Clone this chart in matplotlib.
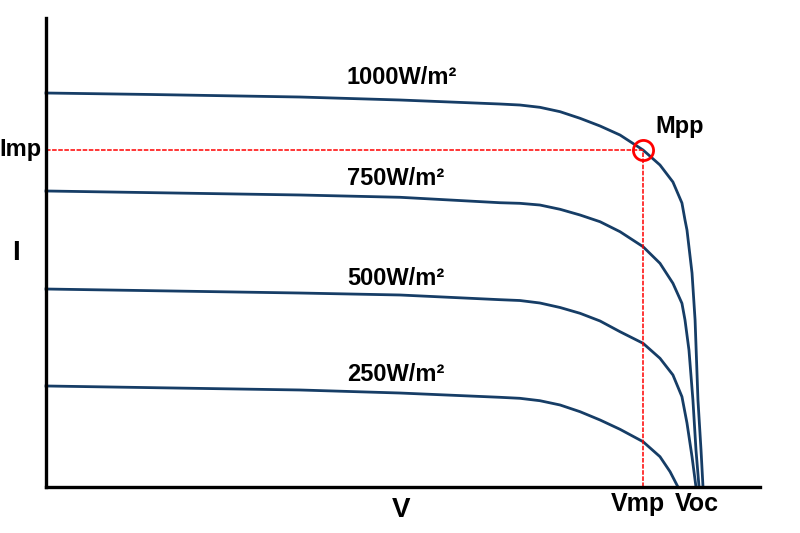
import matplotlib
matplotlib.use("Agg")
import matplotlib.pyplot as plt

plt.rcParams['font.family'] = ['Liberation Sans', 'DejaVu Sans']

# I-V curves (arbitrary V / I units)
v_1000 = [0, 5.78, 14.11, 19.67, 25.22, 26.33, 27.44, 28.56, 29.67, 30.78, 31.89, 33.17,
          34.11, 34.83, 35.33, 35.5, 35.61, 35.89, 36.06, 36.22, 36.39, 36.5]
i_1000 = [8.565, 8.533, 8.478, 8.413, 8.326, 8.304, 8.254, 8.159, 8.015, 7.848, 7.652, 7.326,
          7.0, 6.630, 6.174, 5.804, 5.587, 4.652, 3.630, 1.891, 0.804, 0]

v_750 = [0, 14.11, 19.67, 25.22, 26.33, 27.44, 28.56, 29.67, 30.78, 31.89, 33.17,
         34.11, 34.83, 35.33, 35.5, 35.72, 35.94, 36.11, 36.28]
i_750 = [6.435, 6.348, 6.298, 6.180, 6.167, 6.130, 6.037, 5.913, 5.767, 5.550, 5.224,
         4.863, 4.428, 3.993, 3.630, 2.978, 1.891, 0.804, 0]

v_500 = [0, 14.11, 19.67, 25.22, 26.33, 27.44, 28.56, 29.67, 30.78, 31.89, 33.17,
         34.11, 34.83, 35.33, 35.61, 35.89, 36.11]
i_500 = [4.304, 4.217, 4.174, 4.072, 4.054, 4.0, 3.902, 3.776, 3.609, 3.376, 3.124,
         2.798, 2.435, 1.963, 1.391, 0.659, 0]

v_250 = [0, 14.11, 19.67, 25.22, 26.33, 27.44, 28.56, 29.67, 30.78, 31.89, 33.17,
         34.11, 34.67, 35.11]
i_250 = [2.196, 2.109, 2.043, 1.950, 1.928, 1.876, 1.783, 1.637, 1.457, 1.254, 0.985,
         0.659, 0.333, 0]

curve_labels = ['1000W/m²', '750W/m²', '500W/m²', '250W/m²']
label_y = [8.90, 6.70, 4.53, 2.44]

v_mp = 33.17
i_mp = 7.33

navy = '#163d66'

fig = plt.figure(figsize=(8, 5.33), dpi=100)
ax = fig.add_axes([46 / 800, 46 / 533, 714 / 800, 469 / 533])
ax.set_xlim(0, 714 / 18)
ax.set_ylim(0, 469 / 46)

for v, i in [(v_1000, i_1000), (v_750, i_750), (v_500, i_500), (v_250, i_250)]:
    ax.plot(v, i, color=navy, lw=2, solid_joinstyle='round', clip_on=False)

for lab, y in zip(curve_labels, label_y):
    ax.text(16.72, y, lab, fontsize=17, fontweight='bold', ha='left', va='center')

# max power point
ax.plot([0, v_mp], [i_mp, i_mp], color='red', lw=1.1, ls=(0, (3, 1)))
ax.plot([v_mp, v_mp], [0, i_mp], color='red', lw=1.1, ls=(0, (3, 1)))
ax.plot([v_mp], [i_mp], marker='o', ms=14.5, mfc='none', mec='red', mew=2)
ax.text(35.19, 7.83, 'Mpp', fontsize=17, fontweight='bold', ha='center', va='center')

ax.text(-0.24, i_mp, 'Imp', fontsize=17, fontweight='bold', ha='right', va='center', clip_on=False)
ax.text(-1.67, 5.09, 'I', fontsize=20, fontweight='bold', ha='center', va='center')
ax.text(19.72, -0.5, 'V', fontsize=20, fontweight='bold', ha='center', va='center')
ax.text(32.86, -0.36, 'Vmp', fontsize=18, fontweight='bold', ha='center', va='center')
ax.text(36.15, -0.36, 'Voc', fontsize=18, fontweight='bold', ha='center', va='center')

for s in ['top', 'right']:
    ax.spines[s].set_visible(False)
for s in ['left', 'bottom']:
    ax.spines[s].set_linewidth(2.4)
    ax.spines[s].set_color('black')
ax.set_xticks([])
ax.set_yticks([])

fig.savefig('out.png', dpi=100)
